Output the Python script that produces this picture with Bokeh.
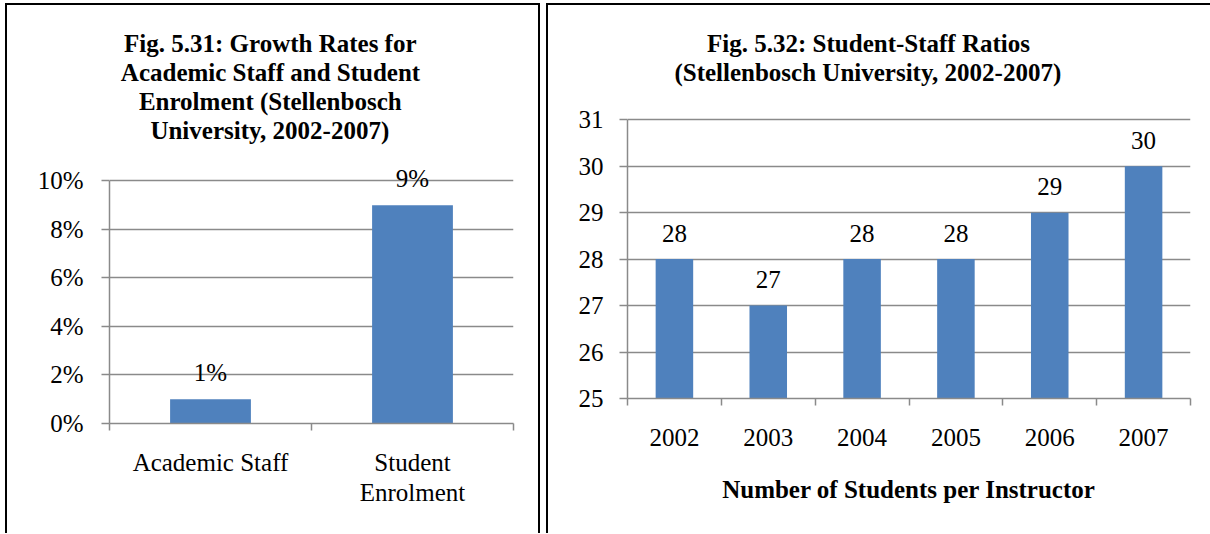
from bokeh.plotting import figure
from bokeh.models import (FactorRange, Range1d, LinearAxis, FixedTicker,
                          SingleIntervalTicker, NumeralTickFormatter, Grid, Title, ColumnDataSource)
from bokeh.core.properties import value
from bokeh.embed import file_html
from bokeh.resources import INLINE

# ---------------- data ----------------
growth_categories = ["Academic Staff", "Student Enrolment"]
growth_label_lines = [["Academic Staff"], ["Student", "Enrolment"]]
growth_rates = [0.01, 0.09]
growth_title = ["Fig. 5.31: Growth Rates for", "Academic Staff and Student",
                "Enrolment (Stellenbosch", "University, 2002-2007)"]

years = ["2002", "2003", "2004", "2005", "2006", "2007"]
ratios = [28, 27, 28, 28, 29, 30]
ratio_title = ["Fig. 5.32: Student-Staff Ratios", "(Stellenbosch University, 2002-2007)"]
ratio_axis_label = "Number of Students per Instructor"

# ---------------- style ----------------
FONT = "Liberation Serif"
BAR = "#4F81BD"
GRID = "#8a8a8a"
TICK_FS = "25px"
TITLE_PX = 25

# Times/Liberation Serif Bold advance widths (per 1000 em) for centring titles
W = {" ": 250, "(": 333, ")": 333, ",": 250, "-": 333, ".": 250, ":": 333,
     "A": 722, "E": 667, "F": 611, "G": 778, "R": 722, "S": 556, "U": 722,
     "a": 500, "b": 556, "c": 444, "d": 556, "e": 444, "f": 333, "g": 500, "h": 556,
     "i": 278, "l": 278, "m": 833, "n": 556, "o": 500, "r": 444, "s": 389, "t": 333,
     "u": 556, "v": 500, "w": 722, "y": 500}


def text_w(s, px):
    return sum(W.get(ch, 500) for ch in s) * px / 1000.0


def base_fig(width, height, cats, yrange, mb, styles):
    p = figure(width=width, height=height, x_range=FactorRange(factors=cats), y_range=yrange,
               output_backend="svg", toolbar_location=None,
               x_axis_location=None, y_axis_location=None,
               min_border_left=mb[0], min_border_right=mb[1],
               min_border_top=mb[2], min_border_bottom=mb[3])
    p.outline_line_color = None
    p.xgrid.visible = False
    p.ygrid.visible = False
    p.background_fill_color = "white"
    p.border_fill_color = "white"
    p.styles = styles
    return p


def add_axes(p, cats, label_lines, yticker, yformatter, ybounds, ystandoff, xstandoff,
             axis_label=None):
    ya = LinearAxis(ticker=yticker, formatter=yformatter, bounds=ybounds)
    ya.major_tick_out = 8
    ya.major_tick_in = 0
    ya.minor_tick_out = 0
    ya.minor_tick_in = 0
    ya.axis_line_color = GRID
    ya.axis_line_width = 1.5
    ya.major_tick_line_color = GRID
    ya.major_tick_line_width = 1.5
    ya.major_label_standoff = ystandoff
    ya.major_label_text_font = FONT
    ya.major_label_text_font_size = TICK_FS
    ya.major_label_text_color = "black"
    p.add_layout(ya, "left")
    p.add_layout(Grid(dimension=1, ticker=yticker, grid_line_color=GRID, grid_line_width=1.5))

    # x axis line with ticks at the category boundaries
    n = len(cats)
    xt = LinearAxis(ticker=FixedTicker(ticks=list(range(n + 1))))
    xt.major_tick_out = 7
    xt.major_tick_in = 0
    xt.minor_tick_out = 0
    xt.minor_tick_in = 0
    xt.axis_line_color = GRID
    xt.axis_line_width = 1.5
    xt.major_tick_line_color = GRID
    xt.major_tick_line_width = 1.5
    xt.major_label_text_font_size = "1px"
    xt.major_label_text_alpha = 0
    xt.major_label_standoff = 0
    p.add_layout(xt, "below")

    # category labels (one axis per text line), placed at the category centres
    centres = [i + 0.5 for i in range(n)]
    nlines = max(len(l) for l in label_lines)
    last = None
    for i in range(nlines):
        ax = LinearAxis(ticker=FixedTicker(ticks=centres))
        ax.major_tick_out = 0
        ax.major_tick_in = 0
        ax.minor_tick_out = 0
        ax.minor_tick_in = 0
        ax.axis_line_color = None
        ax.major_tick_line_color = None
        ax.major_label_standoff = xstandoff if i == 0 else 0
        ax.major_label_text_font = FONT
        ax.major_label_text_font_size = TICK_FS
        ax.major_label_text_color = "black"
        ax.major_label_overrides = {c: (l[i] if i < len(l) else "") for c, l in zip(centres, label_lines)}
        p.add_layout(ax, "below")
        last = ax
    if axis_label:
        last.axis_label = axis_label
        last.axis_label_text_font = FONT
        last.axis_label_text_font_size = "25px"
        last.axis_label_text_font_style = "bold"
        last.axis_label_text_color = "black"
        last.axis_label_standoff = 27


def add_titles(p, lines, center_x, frame_left):
    # later-added titles go above earlier ones, so add bottom line first
    for txt in reversed(lines):
        off = center_x - frame_left - text_w(txt, TITLE_PX) / 2.0
        p.add_layout(Title(text=txt, align="left", offset=off, standoff=0,
                           text_font=FONT, text_font_size=f"{TITLE_PX}px", text_font_style="bold",
                           text_color="black", text_line_height=0.96), "above")


B = "2px solid #000"

# ---------------- left chart ----------------
# the frame reaches a little above the 10% line (axis/grid bounded at 10%) so that the
# title block sits at the right height and the 9% label is not clipped
p1 = base_fig(531, 528, growth_categories, Range1d(0, 0.1154), (102, 29, 138, 112),
              {"position": "absolute", "left": "5px", "top": "3px",
               "border-top": B, "border-left": B, "border-right": B, "box-sizing": "content-box"})
src1 = ColumnDataSource(dict(x=growth_categories, top=growth_rates,
                             lab=[f"{v:.0%}" for v in growth_rates]))
p1.vbar(x="x", top="top", bottom=0, width=0.4, source=src1, fill_color=BAR, line_color=None)
p1.text(x="x", y="top", text="lab", source=src1, text_align="center", text_baseline="alphabetic",
        y_offset=-27, text_font=value(FONT), text_font_size=TICK_FS, text_color="black")
add_axes(p1, growth_categories, growth_label_lines,
         SingleIntervalTicker(interval=0.02, num_minor_ticks=0), NumeralTickFormatter(format="0%"),
         (0, 0.10), 18, 18)
add_titles(p1, growth_title, 270, 109)

# ---------------- right chart ----------------
p2 = base_fig(662, 528, years, Range1d(25, 31.736), (79, 22, 80, 137),
              {"position": "absolute", "left": "546px", "top": "3px",
               "border-top": B, "border-left": B, "box-sizing": "content-box"})
src2 = ColumnDataSource(dict(x=years, top=ratios, lab=[str(v) for v in ratios]))
p2.vbar(x="x", top="top", bottom=25, width=0.4, source=src2, fill_color=BAR, line_color=None)
p2.text(x="x", y="top", text="lab", source=src2, text_align="center", text_baseline="alphabetic",
        y_offset=-26, text_font=value(FONT), text_font_size=TICK_FS, text_color="black")
add_axes(p2, years, [[y] for y in years],
         SingleIntervalTicker(interval=1, num_minor_ticks=0), NumeralTickFormatter(format="0"),
         (25, 31), 16, 23, axis_label=ratio_axis_label)
add_titles(p2, ratio_title, 868, 627)

open("out.html", "w").write(file_html([p1, p2], INLINE))
